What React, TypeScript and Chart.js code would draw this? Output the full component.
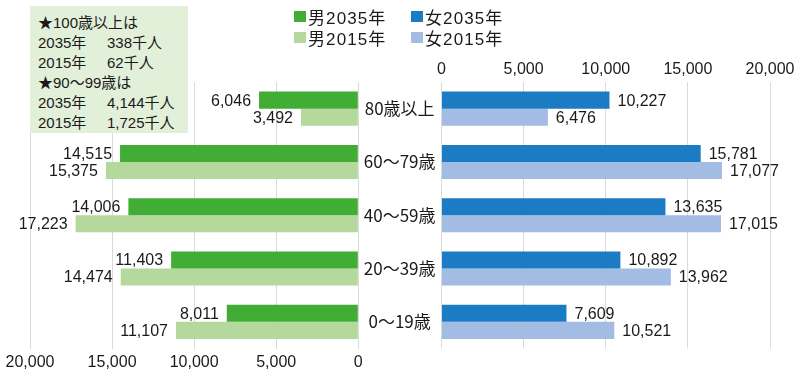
import { useEffect, useRef } from "react";
import { Chart, registerables } from "chart.js";

Chart.register(...registerables);

const categories = ["80歳以上", "60〜79歳", "40〜59歳", "20〜39歳", "0〜19歳"];
const male2035 = [6046, 14515, 14006, 11403, 8011];
const male2015 = [3492, 15375, 17223, 14474, 11107];
const female2035 = [10227, 15781, 13635, 10892, 7609];
const female2015 = [6476, 17077, 17015, 13962, 10521];
const seriesNames = ["男2035年", "男2015年", "女2035年", "女2015年"];
const axisMax = 20000;
const axisStep = 5000;
const noteLines: string[][] = [
  ["★100歳以上は"],
  ["2035年", "338千人"],
  ["2015年", "62千人"],
  ["★90〜99歳は"],
  ["2035年", "4,144千人"],
  ["2015年", "1,725千人"],
];

const COLORS = {
  m35: "#41ad35",
  m15: "#b5d99c",
  f35: "#1b7bc3",
  f15: "#a2bce3",
  grid: "#dadada",
  text: "#1a1a1a",
  note: "#e2efd9",
};
const FAMILY = '"Liberation Sans", "Noto Sans CJK JP", sans-serif';
const fmt = (v: number) => Number(v).toLocaleString("en-US");

const valueLabels = (side: "left" | "right") => ({
  id: "valueLabels",
  afterDatasetsDraw(chart: any) {
    const ctx = chart.ctx;
    ctx.save();
    ctx.font = `16px ${FAMILY}`;
    ctx.fillStyle = COLORS.text;
    ctx.textBaseline = "middle";
    ctx.textAlign = side === "left" ? "right" : "left";
    chart.data.datasets.forEach((ds: any, i: number) => {
      const meta = chart.getDatasetMeta(i);
      meta.data.forEach((el: any, j: number) => {
        const v = ds.data[j] as number;
        const x = side === "left" ? el.x - 8 : el.x + 8;
        ctx.fillText(fmt(v), x, el.y + 1);
      });
    });
    ctx.restore();
  },
});

export default function App() {
  const leftRef = useRef<HTMLCanvasElement>(null);
  const rightRef = useRef<HTMLCanvasElement>(null);

  useEffect(() => {
    const left = new Chart(leftRef.current!, {
      type: "bar",
      data: {
        labels: categories,
        datasets: [
          { label: seriesNames[0], data: male2035, backgroundColor: COLORS.m35 },
          { label: seriesNames[1], data: male2015, backgroundColor: COLORS.m15 },
        ],
      },
      options: {
        indexAxis: "y",
        animation: false,
        responsive: false,
        maintainAspectRatio: false,
        layout: { padding: { left: 30, right: 11.7, top: 82, bottom: 12 } },
        plugins: { legend: { display: false }, tooltip: { enabled: false } },
        datasets: { bar: { categoryPercentage: 0.64, barPercentage: 1 } },
        scales: {
          x: {
            position: "bottom",
            reverse: true,
            min: 0,
            max: axisMax,
            ticks: {
              stepSize: axisStep,
              font: { size: 16, family: FAMILY },
              color: COLORS.text,
              padding: 4,
              maxRotation: 0,
              callback: (v: any) => fmt(v),
            },
            grid: { color: COLORS.grid, drawTicks: false },
            border: { display: false },
            afterFit: (s: any) => {
              s.height = 22.5;
            },
          },
          y: { display: false },
        },
      } as any,
      plugins: [valueLabels("left")],
    });

    const right = new Chart(rightRef.current!, {
      type: "bar",
      data: {
        labels: categories,
        datasets: [
          { label: seriesNames[2], data: female2035, backgroundColor: COLORS.f35 },
          { label: seriesNames[3], data: female2015, backgroundColor: COLORS.f15 },
        ],
      },
      options: {
        indexAxis: "y",
        animation: false,
        responsive: false,
        maintainAspectRatio: false,
        layout: { padding: { left: 0, right: 30, top: 60, bottom: 34.5 } },
        plugins: { legend: { display: false }, tooltip: { enabled: false } },
        datasets: { bar: { categoryPercentage: 0.64, barPercentage: 1 } },
        scales: {
          x: {
            position: "top",
            min: 0,
            max: axisMax,
            ticks: {
              stepSize: axisStep,
              font: { size: 16, family: FAMILY },
              color: COLORS.text,
              padding: 3,
              maxRotation: 0,
              callback: (v: any) => fmt(v),
            },
            grid: { color: COLORS.grid, drawTicks: false },
            border: { display: false },
            afterFit: (s: any) => {
              s.height = 22;
            },
          },
          y: {
            position: "left",
            ticks: {
              font: { size: 17, family: '"Noto Sans CJK JP", sans-serif' },
              color: COLORS.text,
              crossAlign: "center",
              padding: 6,
            },
            grid: { display: false, drawTicks: false },
            border: { display: false },
            afterFit: (s: any) => {
              s.width = 81.5;
            },
          },
        },
      } as any,
      plugins: [valueLabels("right")],
    });

    return () => {
      left.destroy();
      right.destroy();
    };
  }, []);

  const legendItems = [
    { name: seriesNames[0], color: COLORS.m35, x: 294, y: 0 },
    { name: seriesNames[2], color: COLORS.f35, x: 411, y: 0 },
    { name: seriesNames[1], color: COLORS.m15, x: 294, y: 21 },
    { name: seriesNames[3], color: COLORS.f15, x: 411, y: 21 },
  ];

  return (
    <div
      style={{
        position: "absolute",
        left: 0,
        top: 0,
        width: 800,
        height: 383,
        background: "#fff",
        overflow: "hidden",
      }}
    >
      <canvas
        ref={leftRef}
        width={370}
        height={383}
        style={{ position: "absolute", left: 0, top: 0, width: 370, height: 383 }}
      />
      <canvas
        ref={rightRef}
        width={440}
        height={383}
        style={{ position: "absolute", left: 360, top: 0, width: 440, height: 383 }}
      />
      <div
        style={{
          position: "absolute",
          left: 30,
          top: 6,
          width: 150,
          height: 120,
          padding: "7px 0 0 8px",
          background: COLORS.note,
          fontFamily: FAMILY,
          fontSize: 15,
          lineHeight: "20px",
          color: COLORS.text,
        }}
      >
        {noteLines.map((line, i) => (
          <div key={i} style={{ whiteSpace: "nowrap" }}>
            {line.length === 1 ? (
              line[0]
            ) : (
              <>
                <span style={{ display: "inline-block", width: 69 }}>{line[0]}</span>
                <span>{line[1]}</span>
              </>
            )}
          </div>
        ))}
      </div>
      {legendItems.map((it) => (
        <div
          key={it.name}
          style={{
            position: "absolute",
            left: it.x,
            top: 6 + it.y,
            height: 21,
            display: "flex",
            alignItems: "center",
            fontFamily: FAMILY,
            fontSize: 17,
            letterSpacing: "1.1px",
            color: COLORS.text,
            whiteSpace: "nowrap",
          }}
        >
          <span
            style={{
              display: "inline-block",
              width: 12,
              height: 11,
              background: it.color,
              marginRight: 2,
            }}
          />
          <span>{it.name}</span>
        </div>
      ))}
    </div>
  );
}
